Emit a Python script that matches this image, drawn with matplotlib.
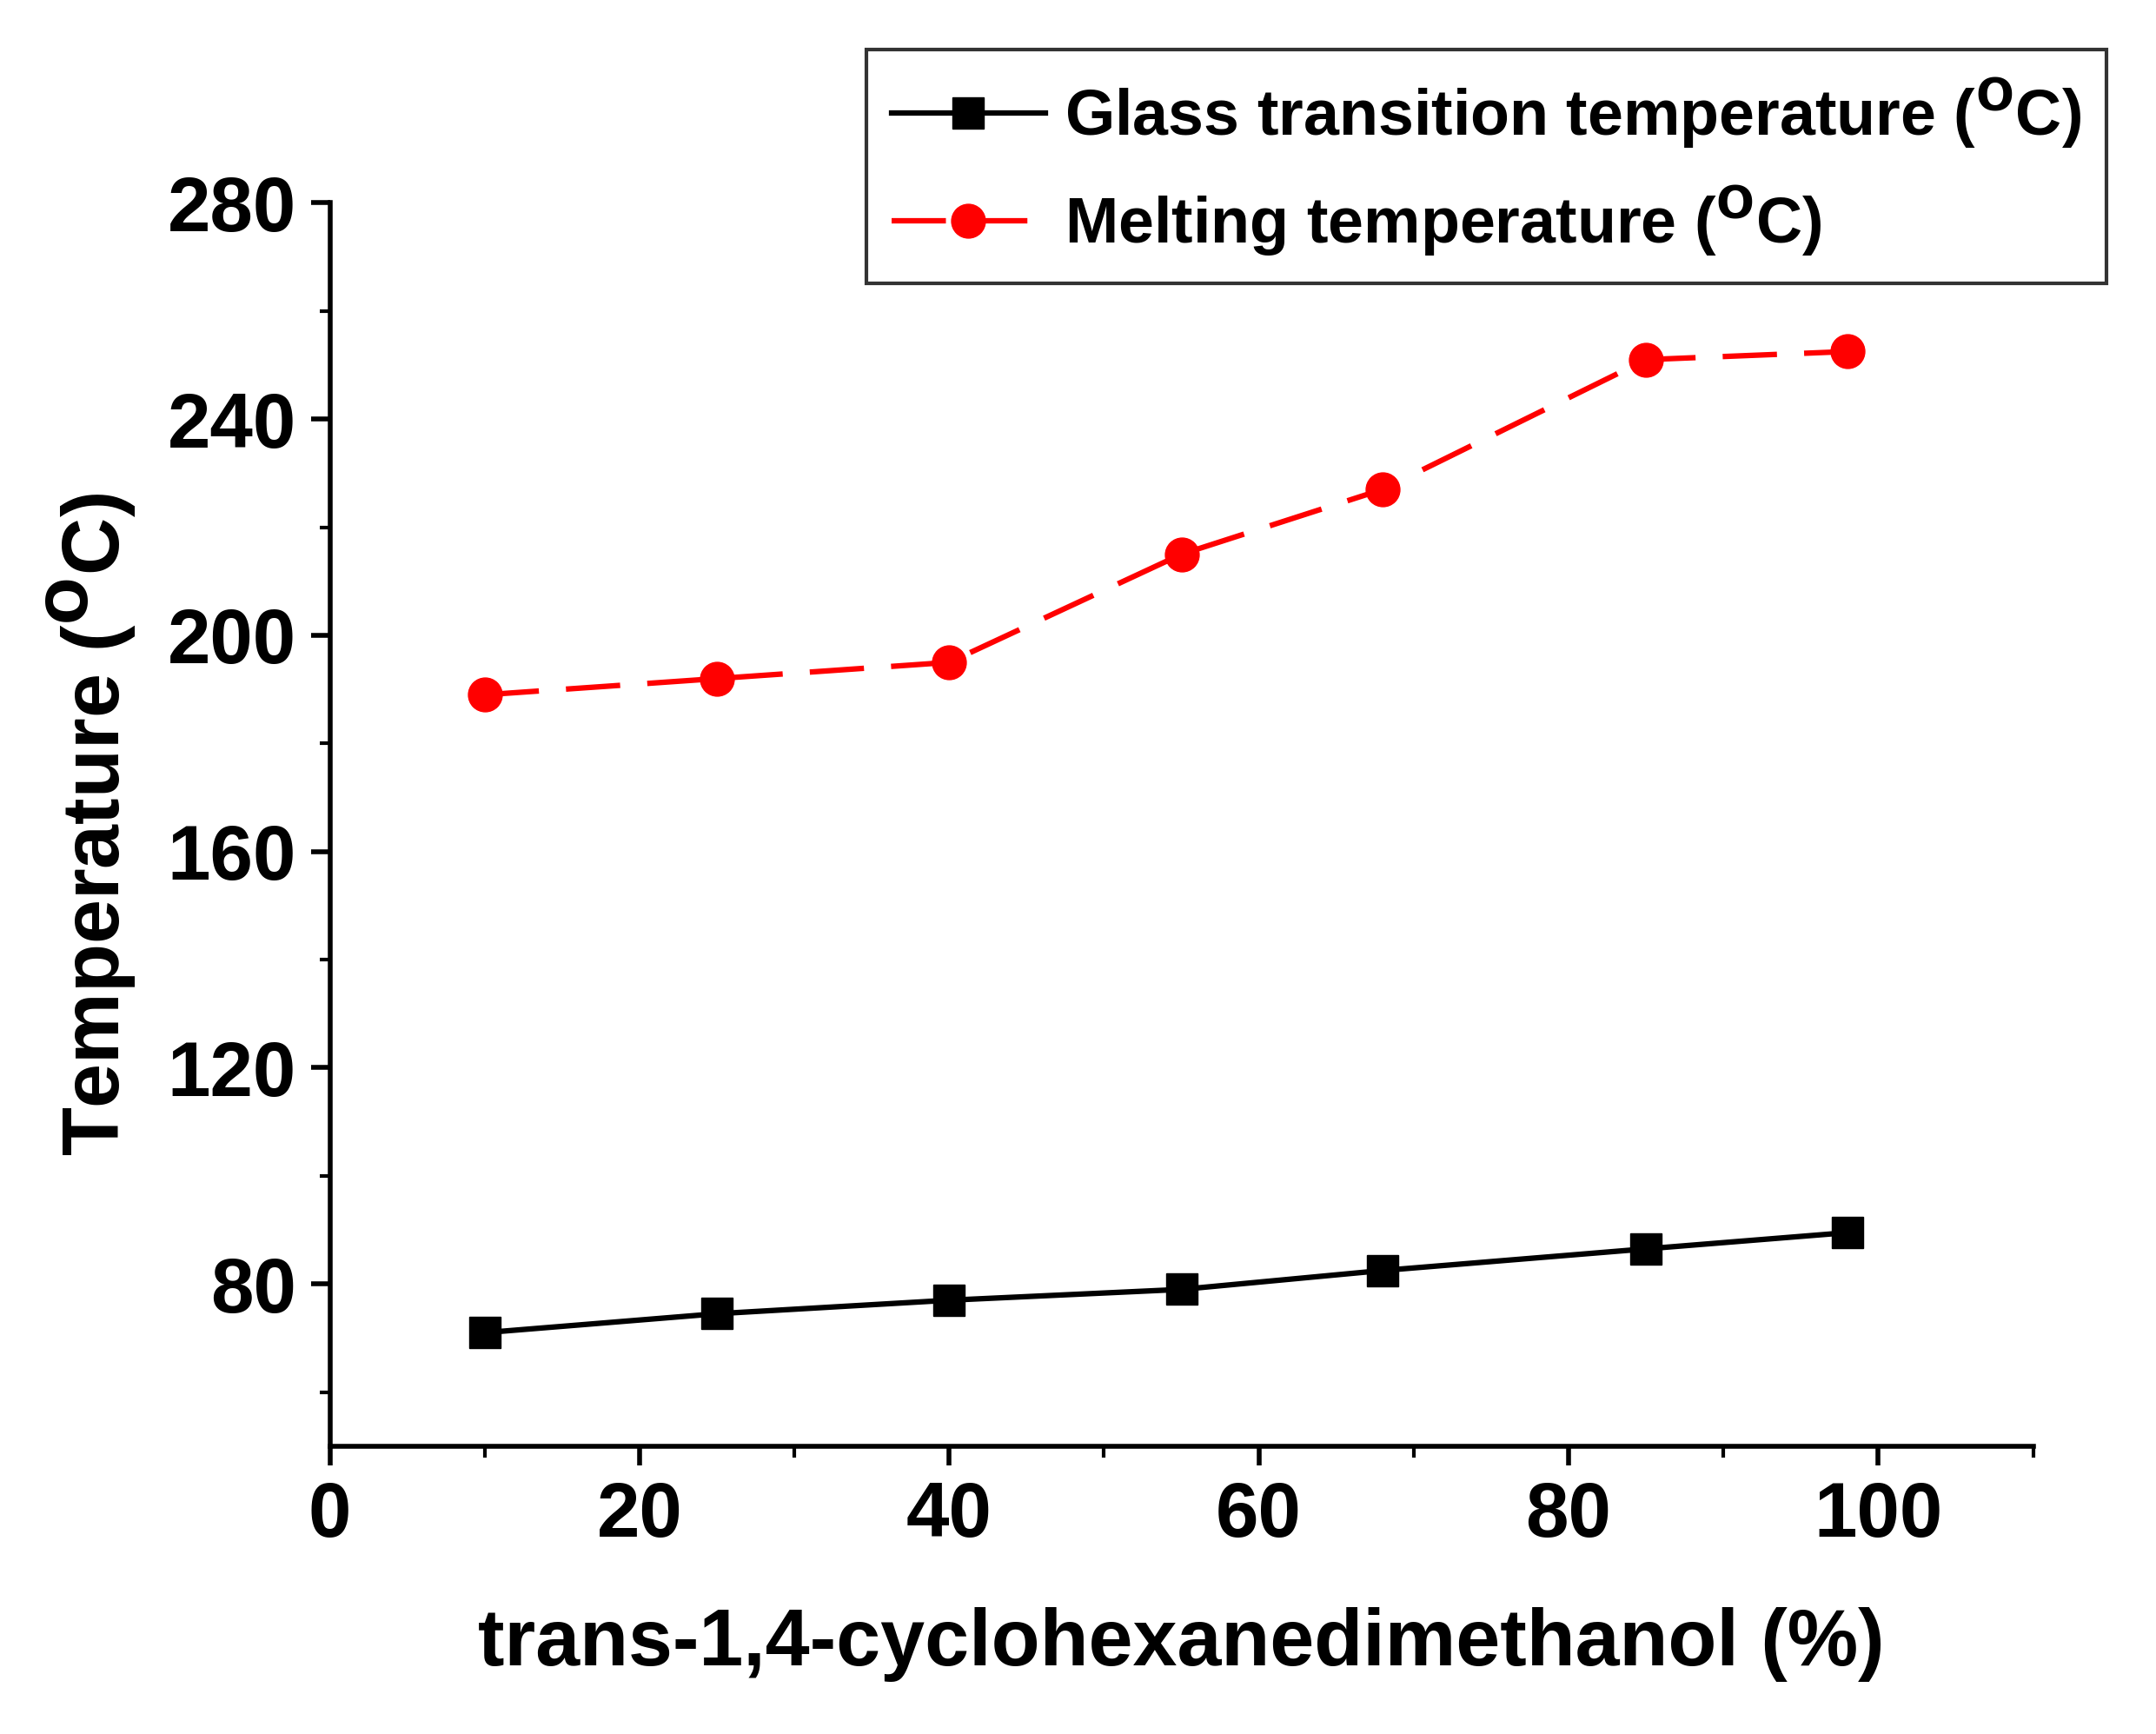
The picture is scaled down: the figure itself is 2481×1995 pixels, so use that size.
import matplotlib
matplotlib.use("Agg")
import matplotlib.pyplot as plt
from matplotlib.ticker import MultipleLocator

x = [10, 25, 40, 55, 68, 85, 98]
tg = [71, 74.5, 77, 79, 82.5, 86.5, 89.5]
tm = [189, 192, 195, 215, 227, 251, 252.5]

plt.rcParams["font.family"] = "Liberation Sans"
plt.rcParams["font.weight"] = "bold"
fig = plt.figure(figsize=(24.81, 19.95), dpi=100)
ax = fig.add_axes([0.153, 0.166, 0.79, 0.717])
ax.plot(x, tg, color="black", lw=4.5, marker="s", ms=26, label="Glass transition temperature ($\\mathbf{^{O}}$C)")
ax.plot(x, tm, color="red", lw=4.5, dashes=(10, 5), marker="o", ms=28, label="Melting temperature ($\\mathbf{^{O}}$C)")
ax.set_xlim(0, 110)
ax.set_ylim(50, 280)
ax.set_yticks([80, 120, 160, 200, 240, 280])
ax.xaxis.set_major_locator(MultipleLocator(20))
ax.xaxis.set_minor_locator(MultipleLocator(10))
ax.yaxis.set_minor_locator(MultipleLocator(20))
for s in ["top", "right"]:
    ax.spines[s].set_visible(False)
for s in ["left", "bottom"]:
    ax.spines[s].set_linewidth(4)
ax.tick_params(which="major", length=16, width=4, labelsize=64, pad=12)
ax.tick_params(which="minor", length=9, width=3)
ax.set_xlabel("trans-1,4-cyclohexanedimethanol (%)", fontsize=66, fontweight="bold", labelpad=45)
ax.set_ylabel("Temperature ($\\mathbf{^{O}}$C)", fontsize=66, fontweight="bold", labelpad=25)
leg = fig.legend(loc="upper right", bbox_to_anchor=(0.992, 0.99), fontsize=53, frameon=True,
                 fancybox=False, edgecolor="black", handlelength=2.4, borderpad=0.4, labelspacing=0.5,
                 handletextpad=0.3)
leg.get_frame().set_linewidth(3)
fig.savefig("out.png", dpi=100, facecolor="white")
